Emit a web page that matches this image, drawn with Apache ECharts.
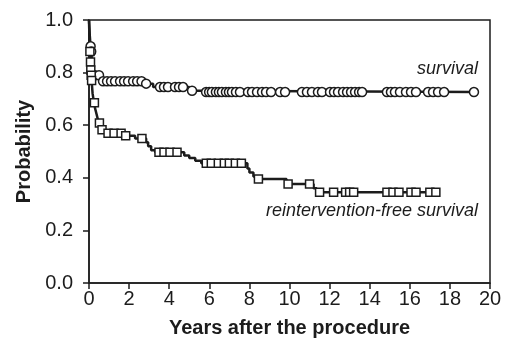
<!DOCTYPE html>
<html>
<head>
<meta charset="utf-8">
<script src="https://cdn.jsdelivr.net/npm/echarts@6/dist/echarts.min.js"></script>
<style>html,body{margin:0;padding:0;background:#fff;}#c{width:505px;height:347px;}</style>
</head>
<body>
<div id="c"></div>
<script>
// ---- Data ----
const xTicks = [0, 2, 4, 6, 8, 10, 12, 14, 16, 18, 20];
const yTicks = [0.0, 0.2, 0.4, 0.6, 0.8, 1.0];

// Overall survival: event times and survival after each event
const survTimes = [0, 0.02, 0.04, 0.06, 0.08, 0.1, 0.13, 0.17, 0.22, 0.28, 0.6, 2.7, 3.2, 5.0, 5.4];
const survVals  = [1.0, 0.97, 0.94, 0.92, 0.90, 0.88, 0.86, 0.83, 0.81, 0.79, 0.767, 0.758, 0.745, 0.731, 0.726];
const survEnd = 19.2;
const survCensor = [0.08, 0.11, 0.3, 0.5, 0.7, 0.9, 1.1, 1.3, 1.55, 1.75, 1.95, 2.2, 2.4, 2.62, 2.85,
  3.54, 3.74, 3.94, 4.29, 4.49, 4.69, 5.14, 5.84, 5.99, 6.13, 6.33, 6.48, 6.63, 6.83, 6.98, 7.13,
  7.33, 7.53, 7.93, 8.13, 8.38, 8.63, 8.83, 9.08, 9.53, 9.78, 10.62, 10.87, 11.12, 11.42, 11.62,
  12.02, 12.22, 12.42, 12.67, 12.87, 13.07, 13.27, 13.47, 13.62, 14.86, 15.06, 15.26, 15.51,
  15.81, 16.06, 16.31, 16.91, 17.16, 17.41, 17.71, 19.2];

// Reintervention-free survival
const reTimes = [0, 0.01, 0.02, 0.03, 0.04, 0.05, 0.07, 0.08, 0.1, 0.12, 0.15, 0.18, 0.22, 0.26, 0.3,
  0.35, 0.4, 0.45, 0.5, 0.56, 0.62, 0.75, 0.9, 1.75, 2.3, 2.85, 2.95, 3.1, 3.3, 4.75, 5.0, 5.3, 5.6,
  7.9, 8.0, 8.2, 8.4, 9.85, 11.2, 11.35];
const reVals = [1.0, 0.97, 0.94, 0.91, 0.88, 0.86, 0.84, 0.81, 0.79, 0.77, 0.75, 0.72, 0.70, 0.685, 0.665,
  0.65, 0.635, 0.62, 0.608, 0.595, 0.583, 0.575, 0.569, 0.56, 0.549, 0.535, 0.52, 0.505, 0.497, 0.485,
  0.475, 0.465, 0.455, 0.435, 0.42, 0.405, 0.395, 0.376, 0.36, 0.345];
const reEnd = 17.3;
const reCensor = [0.045, 0.075, 0.09, 0.11, 0.13, 0.27, 0.52, 0.65, 0.95, 1.25, 1.6, 1.83, 2.64,
  3.49, 3.74, 4.04, 4.39, 5.85, 6.1, 6.45, 6.75, 7.0, 7.3, 7.6, 8.45, 9.93, 11.0, 11.5, 12.2,
  12.8, 13.0, 13.2, 14.86, 15.16, 15.46, 16.06, 16.31, 17.0, 17.3];

const xTitle = 'Years after the procedure';
const yTitle = 'Probability';
const survLabel = 'survival';
const reLabel = 'reintervention-free survival';

// ---- Helpers ----
function valueAt(times, vals, t) {
  let v = vals[0];
  for (let i = 0; i < times.length; i++) if (times[i] <= t) v = vals[i];
  return v;
}
function curve(times, vals, end) {
  const d = times.map((t, i) => [t, vals[i]]);
  d.push([end, vals[vals.length - 1]]);
  return d;
}
function censors(cs, times, vals) {
  return cs.map(t => [t, valueAt(times, vals, t)]);
}

const FONT = "'Liberation Sans', Arial, Helvetica, sans-serif";
const INK = '#1c1c1c';

const chart = echarts.init(document.getElementById('c'), null, {renderer: 'canvas'});
chart.setOption({
  animation: false,
  backgroundColor: '#fff',
  grid: {left: 89, right: 15, top: 20, bottom: 64, show: true, borderColor: INK, borderWidth: 1.5, backgroundColor: 'transparent'},
  xAxis: {
    type: 'value', min: xTicks[0], max: xTicks[xTicks.length - 1], interval: 2,
    axisLine: {show: true, lineStyle: {color: INK, width: 1.5}},
    axisTick: {show: true, inside: false, length: 6, lineStyle: {color: INK, width: 1.5}},
    axisLabel: {color: INK, fontSize: 20, fontFamily: FONT, margin: 6},
    splitLine: {show: false},
    name: xTitle, nameLocation: 'middle', nameGap: 35,
    nameTextStyle: {color: INK, fontSize: 20, fontWeight: 'bold', fontFamily: FONT}
  },
  yAxis: {
    type: 'value', min: yTicks[0], max: yTicks[yTicks.length - 1], interval: 0.2,
    axisLine: {show: true, lineStyle: {color: INK, width: 1.5}},
    axisTick: {show: true, inside: false, length: 6, lineStyle: {color: INK, width: 1.5}},
    axisLabel: {color: INK, fontSize: 20, fontFamily: FONT, margin: 16, formatter: v => v.toFixed(1)},
    splitLine: {show: false},
    name: yTitle, nameLocation: 'middle', nameGap: 54, nameRotate: 90,
    nameTextStyle: {color: INK, fontSize: 20, fontWeight: 'bold', fontFamily: FONT}
  },
  series: [
    {type: 'line', step: 'end', data: curve(survTimes, survVals, survEnd), symbol: 'none',
     lineStyle: {color: INK, width: 2.5}, z: 2},
    {type: 'line', step: 'end', data: curve(reTimes, reVals, reEnd), symbol: 'none',
     lineStyle: {color: INK, width: 2.5}, z: 2},
    {type: 'scatter', data: censors(survCensor, survTimes, survVals), symbol: 'circle', symbolSize: 9,
     itemStyle: {color: '#fff', borderColor: INK, borderWidth: 1.5, opacity: 1}, z: 3},
    {type: 'scatter', data: censors(reCensor, reTimes, reVals), symbol: 'rect', symbolSize: 8,
     itemStyle: {color: '#fff', borderColor: INK, borderWidth: 1.5, opacity: 1}, z: 3}
  ],
  graphic: [
    {type: 'text', right: 27, top: 60, style: {text: survLabel, font: 'italic 18px ' + FONT, fill: INK}},
    {type: 'text', right: 27, top: 202, style: {text: reLabel, font: 'italic 18px ' + FONT, fill: INK}}
  ]
});
</script>
</body>
</html>
